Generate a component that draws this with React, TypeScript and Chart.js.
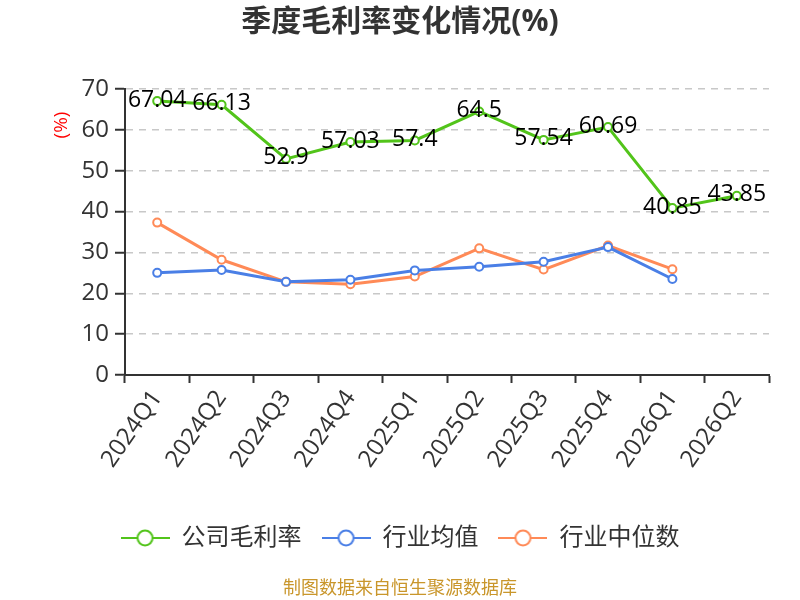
import React, { useEffect, useRef } from 'react';
import { Chart, registerables } from 'chart.js';

Chart.register(...registerables);

const quarters = ['2024Q1', '2024Q2', '2024Q3', '2024Q4', '2025Q1', '2025Q2', '2025Q3', '2025Q4', '2026Q1', '2026Q2'];
const companyMargin = [67.04, 66.13, 52.9, 57.03, 57.4, 64.5, 57.54, 60.69, 40.85, 43.85];
const industryAvg = [25.0, 25.7, 22.8, 23.3, 25.6, 26.5, 27.7, 31.3, 23.5, null];
const industryMedian = [37.3, 28.2, 22.8, 22.2, 24.1, 31.0, 25.8, 31.7, 25.9, null];
const seriesNames = ['公司毛利率', '行业均值', '行业中位数'];

const GREEN = '#52c41a';
const BLUE = '#4a7fe6';
const ORANGE = '#ff8a57';
const FONT = '"Open Sans", "Noto Sans CJK SC", sans-serif';

// legend marker: short line with a hollow circle in the middle
function makeMarker(color: string) {
  const c = document.createElement('canvas');
  c.width = 49;
  c.height = 18;
  const ctx = c.getContext('2d')!;
  ctx.strokeStyle = color;
  ctx.lineWidth = 2;
  ctx.beginPath();
  ctx.moveTo(0, 9);
  ctx.lineTo(49, 9);
  ctx.stroke();
  ctx.beginPath();
  ctx.arc(24.5, 9, 7.5, 0, Math.PI * 2);
  ctx.fillStyle = '#fff';
  ctx.fill();
  ctx.stroke();
  return c;
}

const extras = {
  id: 'extras',
  afterDatasetsDraw(chart: Chart) {
    const ctx = chart.ctx;
    const meta = chart.getDatasetMeta(0);
    ctx.save();
    ctx.font = `23px ${FONT}`;
    ctx.fillStyle = '#000';
    ctx.textAlign = 'center';
    ctx.textBaseline = 'middle';
    meta.data.forEach((pt, i) => {
      ctx.fillText(String(companyMargin[i]), pt.x, pt.y - 1);
    });
    ctx.restore();
  },
  afterDraw(chart: Chart) {
    const ctx = chart.ctx;
    // title
    ctx.save();
    ctx.fillStyle = '#333';
    ctx.font = `bold 30px ${FONT}`;
    ctx.textAlign = 'center';
    ctx.textBaseline = 'middle';
    ctx.fillText('季度毛利率变化情况(%)', 400, 22);
    ctx.restore();

    // y axis unit
    ctx.save();
    ctx.fillStyle = '#ff0000';
    ctx.font = `19px ${FONT}`;
    ctx.textAlign = 'center';
    ctx.textBaseline = 'middle';
    ctx.translate(62, 125);
    ctx.rotate(-Math.PI / 2);
    ctx.fillText('(%)', 0, 0);
    ctx.restore();

    // source
    ctx.save();
    ctx.fillStyle = '#c9962b';
    ctx.font = `18px ${FONT}`;
    ctx.textAlign = 'center';
    ctx.textBaseline = 'middle';
    ctx.fillText('制图数据来自恒生聚源数据库', 400, 589);
    ctx.restore();
  },
};

const App: React.FC = () => {
  const chartRef = useRef<HTMLCanvasElement | null>(null);
  const chartInstanceRef = useRef<Chart | null>(null);

  useEffect(() => {
    const ctx = chartRef.current;
    if (!ctx) return;

    if (chartInstanceRef.current) {
      chartInstanceRef.current.destroy();
    }

    const colors = [GREEN, BLUE, ORANGE];
    const markers = colors.map(makeMarker);

    chartInstanceRef.current = new Chart(ctx, {
      type: 'line',
      data: {
        labels: quarters,
        datasets: [companyMargin, industryAvg, industryMedian].map((values, i) => ({
          label: seriesNames[i],
          data: values,
          borderColor: colors[i],
          backgroundColor: colors[i],
          borderWidth: 3,
          pointRadius: 4,
          pointBorderWidth: 2,
          pointBackgroundColor: '#fff',
          pointBorderColor: colors[i],
          tension: 0,
        })),
      },
      options: {
        animation: false,
        responsive: true,
        maintainAspectRatio: false,
        layout: {
          padding: { left: 0, right: 0, top: 89, bottom: 40 },
        },
        font: { family: FONT },
        plugins: {
          title: { display: false },
          legend: {
            position: 'bottom',
            labels: {
              usePointStyle: true,
              pointStyleWidth: 49,
              color: '#333',
              padding: 20,
              font: { size: 24, family: FONT },
              generateLabels: () =>
                seriesNames.map((name, i) => ({
                  text: name,
                  pointStyle: markers[i],
                  fontColor: '#333',
                  fillStyle: 'transparent',
                  strokeStyle: 'transparent',
                  lineWidth: 0,
                  hidden: false,
                  datasetIndex: i,
                })),
            },
          },
          tooltip: { enabled: false },
        },
        scales: {
          x: {
            offset: true,
            afterFit: (scale: any) => {
              scale.height = 131;
            },
            grid: {
              display: true,
              drawOnChartArea: false,
              offset: true,
              tickLength: 8,
              tickColor: '#333',
              tickWidth: 2,
            },
            border: { color: '#333', width: 2 },
            ticks: {
              color: '#333',
              font: { size: 24, family: FONT },
              minRotation: 55,
              maxRotation: 55,
              padding: 2,
            },
          },
          y: {
            min: 0,
            max: 70,
            afterFit: (scale: any) => {
              scale.width = 125;
            },
            ticks: {
              stepSize: 10,
              color: '#333',
              font: { size: 24, family: FONT },
              padding: 6,
            },
            grid: {
              color: '#c8c8c8',
              lineWidth: 1.5,
              tickLength: 10,
              tickColor: '#333',
              tickWidth: 2,
              tickBorderDash: [],
            },
            border: { color: '#333', width: 2, dash: [7, 6] },
          },
          yRight: {
            position: 'right',
            display: true,
            afterFit: (scale: any) => {
              scale.width = 31;
            },
            ticks: { display: false },
            grid: { display: false, drawTicks: false },
            border: { display: false },
          },
        },
      },
      plugins: [extras],
    });

    return () => {
      if (chartInstanceRef.current) {
        chartInstanceRef.current.destroy();
        chartInstanceRef.current = null;
      }
    };
  }, []);

  return (
    <div style={{ position: 'fixed', left: 0, top: 0, width: '800px', height: '600px', background: '#fff' }}>
      <canvas ref={chartRef}></canvas>
    </div>
  );
};

export default App;
